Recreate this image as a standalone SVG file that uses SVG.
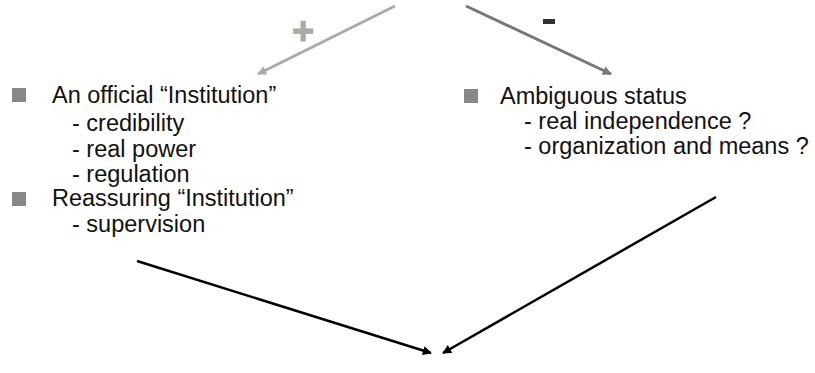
<svg xmlns="http://www.w3.org/2000/svg" width="815" height="373" viewBox="0 0 815 373">
  <defs>
    <marker id="headLight" viewBox="0 0 10 10" refX="9" refY="5" markerWidth="10" markerHeight="9" orient="auto" markerUnits="userSpaceOnUse">
      <path d="M0,0 L10,5 L0,10 z" fill="#aaaaaa"/>
    </marker>
    <marker id="headDark" viewBox="0 0 10 10" refX="9" refY="5" markerWidth="10" markerHeight="9" orient="auto" markerUnits="userSpaceOnUse">
      <path d="M0,0 L10,5 L0,10 z" fill="#777777"/>
    </marker>
    <marker id="headBlack" viewBox="0 0 10 10" refX="9" refY="5" markerWidth="10" markerHeight="9" orient="auto" markerUnits="userSpaceOnUse">
      <path d="M0,0 L10,5 L0,10 z" fill="#000000"/>
    </marker>
  </defs>
  <style>
    text { font-family: "Liberation Sans", Arial, sans-serif; font-size: 23.5px; fill: #111111; }
    .bullet { fill: #888888; }
    .plus { font-weight: bold; font-size: 38px; fill: #aaaaaa; stroke: #aaaaaa; stroke-width: 1; }
  </style>
  <rect width="815" height="373" fill="#ffffff"/>

  <g id="connectors" fill="none">
    <line x1="395" y1="6" x2="258" y2="74" stroke="#aaaaaa" stroke-width="3" marker-end="url(#headLight)"/>
    <line x1="466" y1="6" x2="611" y2="74" stroke="#777777" stroke-width="3" marker-end="url(#headDark)"/>
    <line x1="137" y1="261" x2="431" y2="353" stroke="#000000" stroke-width="2.5" marker-end="url(#headBlack)"/>
    <line x1="716" y1="197" x2="443" y2="353" stroke="#000000" stroke-width="2.5" marker-end="url(#headBlack)"/>
  </g>

  <g id="sign-plus">
    <text class="plus" x="303" y="44" text-anchor="middle">+</text>
  </g>
  <g id="sign-minus">
    <rect x="543" y="19" width="12" height="5" fill="#333333"/>
  </g>

  <g id="advantages">
    <rect class="bullet" x="12" y="88" width="14" height="14"/>
    <text x="52" y="103">An official “Institution”</text>
    <text x="72" y="131">- credibility</text>
    <text x="72" y="157">- real power</text>
    <text x="72" y="182">- regulation</text>
    <rect class="bullet" x="12" y="192" width="14" height="14"/>
    <text x="52" y="206">Reassuring “Institution”</text>
    <text x="72" y="232">- supervision</text>
  </g>

  <g id="drawbacks">
    <rect class="bullet" x="464" y="89" width="14" height="14"/>
    <text x="500" y="104">Ambiguous status</text>
    <text x="524" y="129">- real independence ?</text>
    <text x="524" y="154">- organization and means ?</text>
  </g>
</svg>
